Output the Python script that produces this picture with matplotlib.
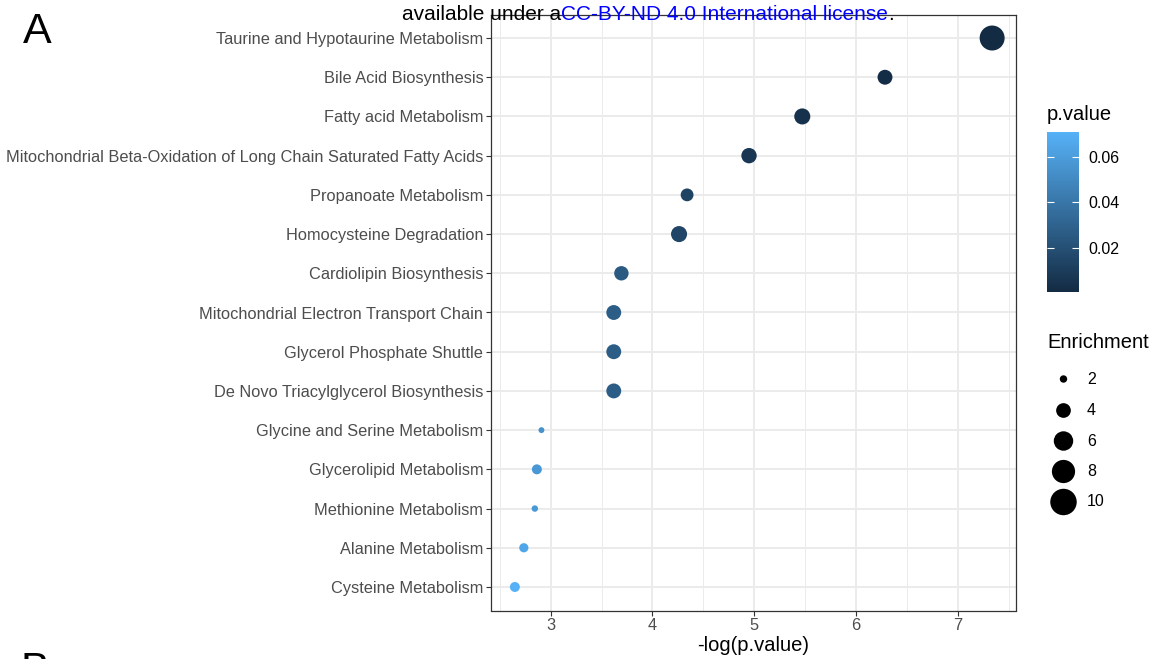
import numpy as np
import matplotlib
matplotlib.use("Agg")
import matplotlib.pyplot as plt
from matplotlib.colors import LinearSegmentedColormap, Normalize
from matplotlib.cm import ScalarMappable

plt.rcParams['font.family'] = ['Liberation Sans', 'DejaVu Sans']

# pathways, top to bottom
pathways = [
    "Taurine and Hypotaurine Metabolism",
    "Bile Acid Biosynthesis",
    "Fatty acid Metabolism",
    "Mitochondrial Beta-Oxidation of Long Chain Saturated Fatty Acids",
    "Propanoate Metabolism",
    "Homocysteine Degradation",
    "Cardiolipin Biosynthesis",
    "Mitochondrial Electron Transport Chain",
    "Glycerol Phosphate Shuttle",
    "De Novo Triacylglycerol Biosynthesis",
    "Glycine and Serine Metabolism",
    "Glycerolipid Metabolism",
    "Methionine Metabolism",
    "Alanine Metabolism",
    "Cysteine Metabolism",
]
neg_log_p = [7.335, 6.283, 5.471, 4.948, 4.340, 4.261, 3.695, 3.620, 3.620, 3.620,
             2.910, 2.865, 2.845, 2.737, 2.649]
p_values = [0.00065, 0.00187, 0.00420, 0.00709, 0.01303, 0.01410, 0.02484, 0.02678,
            0.02678, 0.02678, 0.05448, 0.05699, 0.05814, 0.06477, 0.07074]
enrichment = [10.0, 4.4, 4.9, 4.6, 3.6, 4.9, 4.2, 4.4, 4.4, 4.4, 1.8, 2.7, 1.9, 2.5, 2.7]

size_breaks = [2, 4, 6, 8, 10]
pval_ticks = [0.02, 0.04, 0.06]
x_ticks = [3, 4, 5, 6, 7]

W, H = 1154, 659


def dot_size(v):
    # area scale -> diameter in px -> marker area in pt^2
    d = np.sqrt(np.clip(-95 + 72 * np.asarray(v, dtype=float), 25, None))
    return (d * 0.72) ** 2


cmap = LinearSegmentedColormap.from_list("gg", ["#132B43", "#56B1F7"])
norm = Normalize(vmin=min(p_values), vmax=max(p_values))

fig = plt.figure(figsize=(W / 100, H / 100), dpi=100)
ax = fig.add_axes([491 / W, 1 - 610.5 / H, 525 / W, 596 / H])

ypos = np.arange(len(pathways))[::-1]
ax.scatter(neg_log_p, ypos, s=dot_size(enrichment), c=p_values, cmap=cmap, norm=norm,
           linewidths=0, zorder=3)

rng = max(neg_log_p) - min(neg_log_p)
ax.set_xlim(min(neg_log_p) - 0.05 * rng, max(neg_log_p) + 0.05 * rng)
ax.set_ylim(-0.6, len(pathways) - 0.4)
ax.set_xticks(x_ticks)
ax.set_xticks(np.arange(2.5, 8, 1.0), minor=True)
ax.set_yticks(ypos)
ax.set_yticklabels(pathways)
ax.grid(True, which='major', color='#EBEBEB', lw=1.4, zorder=0)
ax.grid(True, which='minor', axis='x', color='#EBEBEB', lw=0.7, zorder=0)
ax.set_axisbelow(True)
ax.tick_params(which='major', length=3.5, width=0.8, color='#333333', labelcolor='#4D4D4D',
               labelsize=11.8, pad=2)
ax.tick_params(which='minor', length=0)
for sp in ax.spines.values():
    sp.set_color('#333333')
    sp.set_linewidth(0.9)
ax.set_xlabel('-log(p.value)', fontsize=14.5, labelpad=2)

# colour bar
cax = fig.add_axes([1047 / W, 1 - 292 / H, 32 / W, 160 / H])
cb = fig.colorbar(ScalarMappable(norm=norm, cmap=cmap), cax=cax)
cb.outline.set_visible(False)
cb.set_ticks(pval_ticks)
cb.set_ticklabels([f"{t:.2f}" for t in pval_ticks])
cax.tick_params(direction='in', color='white', length=5, width=0.8, left=True, right=True,
                labelsize=11.5, pad=7)

# overlay for legends and page text
ov = fig.add_axes([0, 0, 1, 1])
ov.set_xlim(0, W)
ov.set_ylim(H, 0)
ov.axis('off')
ov.patch.set_alpha(0)

ov.text(1047, 114, 'p.value', fontsize=14.5, ha='left', va='center')
ov.text(1047, 343, 'Enrichment', fontsize=14.5, ha='left', va='center')
leg_y = [379, 410.5, 441, 471.5, 502]
ov.scatter([1063.5] * len(size_breaks), leg_y, s=dot_size(size_breaks) * 1.12, color='black',
           linewidths=0)
for yy, b in zip(leg_y, size_breaks):
    ov.text(1087, yy, str(b), fontsize=11.5, ha='left', va='center')

ov.text(23, 32, 'A', fontsize=31, ha='left', va='center')
ov.text(20, 651, 'B', fontsize=31, ha='left', va='top')

t1 = ov.text(561, 20, 'available under a', fontsize=15, ha='right', va='baseline')
t2 = ov.text(561, 20, 'CC-BY-ND 4.0 International license', fontsize=15, ha='left',
             va='baseline', color='#0000FF')
fig.canvas.draw()
bb = t2.get_window_extent()
x_end = ov.transData.inverted().transform((bb.x1, bb.y0))[0]
ov.text(x_end, 20, '.', fontsize=15, ha='left', va='baseline')

fig.savefig('out.png', dpi=100)
